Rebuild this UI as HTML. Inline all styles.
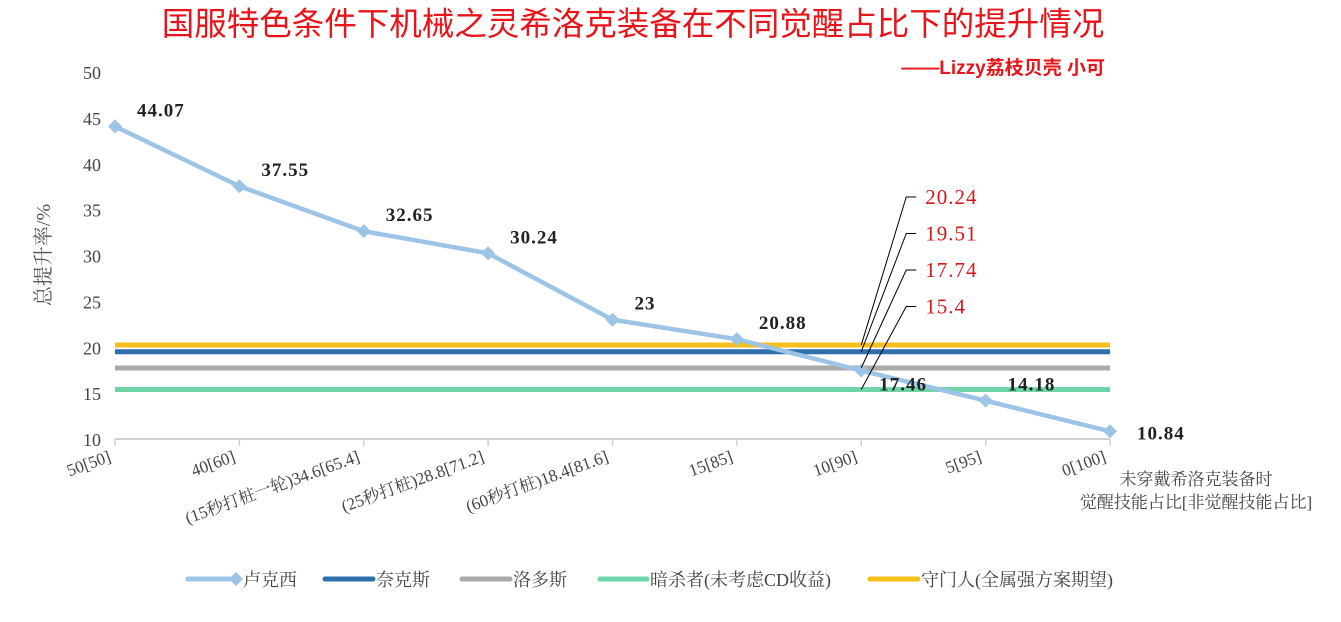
<!DOCTYPE html>
<html><head><meta charset="utf-8"><style>
html,body{margin:0;padding:0;background:#fff;}
svg{display:block;font-family:"Liberation Serif","Noto Serif CJK SC",serif;}
</style></head><body>
<svg id="chart" width="1341" height="622" viewBox="0 0 1341 622" xmlns="http://www.w3.org/2000/svg">
<text x="633" y="35" text-anchor="middle" font-family="'Liberation Sans','Noto Sans CJK SC',sans-serif" font-size="32.5" fill="#e8141a">国服特色条件下机械之灵希洛克装备在不同觉醒占比下的提升情况</text>
<text x="1105" y="74" text-anchor="end" font-family="'Liberation Sans','Noto Sans CJK SC',sans-serif" font-size="19" font-weight="bold" fill="#e8141a">——Lizzy荔枝贝壳 小可</text>
<text transform="translate(50,255) rotate(-90)" text-anchor="middle" font-size="20" fill="#555">总提升率/%</text>
<g id="yaxis"></g>
<g id="xaxis"></g>
<g id="series"></g>
<g id="legend"></g>
<text x="1196" y="485" text-anchor="middle" font-size="17" fill="#444">未穿戴希洛克装备时</text>
<text x="1196" y="508" text-anchor="middle" font-size="17" fill="#444">觉醒技能占比[非觉醒技能占比]</text>
</svg>
<script>
const categories=["50[50]","40[60]","(15秒打桩一轮)34.6[65.4]","(25秒打桩)28.8[71.2]","(60秒打桩)18.4[81.6]","15[85]","10[90]","5[95]","0[100]"];
const luxValues=[44.07,37.55,32.65,30.24,23,20.88,17.46,14.18,10.84];
const refNames=["守门人(全属强方案期望)","奈克斯","洛多斯","暗杀者(未考虑CD收益)"];
const refValues=[20.24,19.51,17.74,15.4];
const yTicks=[10,15,20,25,30,35,40,45,50];
const NS="http://www.w3.org/2000/svg";
const X0=115,X1=1110,Y10=439,YPX=9.175;
function x(i){return X0+i*(X1-X0)/(categories.length-1);}
function y(v){return Y10-(v-10)*YPX;}
function mk(tag,attrs,parent,txt){const e=document.createElementNS(NS,tag);for(const k in attrs)e.setAttribute(k,attrs[k]);if(txt!==undefined)e.textContent=txt;parent.appendChild(e);return e;}
const ya=document.getElementById('yaxis'),xa=document.getElementById('xaxis'),sg=document.getElementById('series'),lg=document.getElementById('legend');
yTicks.forEach(t=>{const e=mk('text',{x:101,y:y(t)+7,'text-anchor':'end','font-size':18,fill:'#444'},ya,String(t));

});
const ax=mk('line',{x1:X0,x2:X1,y1:Y10,y2:Y10,stroke:'#d0d0d0','stroke-width':2},xa);


categories.forEach((c,i)=>{const tk=mk('line',{x1:x(i),x2:x(i),y1:Y10,y2:Y10+7,stroke:'#d0d0d0','stroke-width':1.5},xa);


const tl=mk('text',{transform:`translate(${x(i)-3},${Y10+22}) rotate(-20)`,'text-anchor':'end','font-size':17,fill:'#444'},xa,c);

});
const refColors=["#f5c01a","#2e6fac","#aaaaaa","#6fd5a8"];
[3,2,1,0].forEach(k=>{const l=mk('line',{x1:X0,x2:X1,y1:y(refValues[k]),y2:y(refValues[k]),stroke:refColors[k],'stroke-width':5},sg);

});
const pts=luxValues.map((v,i)=>x(i)+','+y(v)).join(' ');
const pl=mk('polyline',{points:pts,fill:'none',stroke:'#9dc3e6','stroke-width':4.5},sg);


luxValues.forEach((v,i)=>{const cx=x(i),cy=y(v);
const m=mk('polygon',{points:`${cx},${cy-7} ${cx+7},${cy} ${cx},${cy+7} ${cx-7},${cy}`,fill:'#9dc3e6'},sg);


const dx=i===8?27:(i===6?18:22),dy=i===6?20:(i===8?8:-10);
const t=mk('text',{x:cx+dx,y:cy+dy,'font-size':19,'font-weight':'bold','letter-spacing':1,fill:'#222'},sg,String(v));

});
const cxp=x(6);
refValues.forEach((v,k)=>{const ly=197+k*36.5;
const l=mk('polyline',{points:`${cxp},${y(v)} ${cxp+45},${ly} ${cxp+55},${ly}`,fill:'none',stroke:'#000','stroke-width':1},sg);


const t=mk('text',{x:cxp+64,y:ly+7,'font-size':21,'letter-spacing':1,fill:'#d81818'},sg,String(v));

});
const legItems=[["卢克西","#9dc3e6",188,236,true],["奈克斯","#2e6fac",325,373,false],["洛多斯","#aaaaaa",462,510,false],["暗杀者(未考虑CD收益)","#6fd5a8",600,647,false],["守门人(全属强方案期望)","#f5c01a",870,918,false]];
legItems.forEach(it=>{const g=mk('g',{},lg);


mk('line',{x1:it[2],x2:it[3],y1:579,y2:579,stroke:it[1],'stroke-width':5,'stroke-linecap':'round'},g);
if(it[4])mk('polygon',{points:`${it[3]},572 ${it[3]+7},579 ${it[3]},586 ${it[3]-7},579`,fill:it[1]},g);
mk('text',{x:it[3]+(it[4]?7:3),y:586,'font-size':18,fill:'#444'},g,it[0]);});
</script>
</body></html>
